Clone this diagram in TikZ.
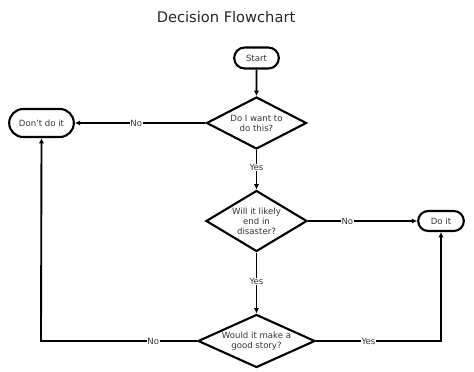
\documentclass[tikz,border=0pt]{standalone}
\usepackage{fontspec}
\setmainfont{DejaVu Sans}
\usetikzlibrary{arrows.meta,shapes.geometric,shapes.misc}

\begin{document}
\begin{tikzpicture}[x=0.03cm, y=-0.03cm,
  term/.style={draw, line width=1.8pt, rounded rectangle, font=\fontsize{7.3}{8.5}\selectfont,
               inner sep=1pt, text=black!80},
  dec/.style={draw, line width=1.8pt, diamond, aspect=1.5, inner sep=-8pt, align=center,
              font=\fontsize{7.3}{8.6}\selectfont, text=black!80},
  lbl/.style={fill=white, inner sep=0.4pt, font=\fontsize{7.3}{8.5}\selectfont, text=black!80},
  arr/.style={-{Latex[length=4.5pt, width=4.5pt]}, line width=1.6pt}
]
\useasboundingbox (0,0) rectangle (474,372);
\node[font=\fontsize{12.5}{14}\selectfont, text=black!85] (title) at (226,17) {Decision Flowchart};
\node[term, minimum width=1.41cm, minimum height=0.63cm] (start) at (256.5,58) {Start};
\node[dec, minimum width=3.0cm, minimum height=1.56cm] (want) at (256.5,123) {Do I want to\\do this?};
\node[term, minimum width=2.01cm, minimum height=0.84cm] (dont) at (41.5,123) {Don't do it};
\node[dec, minimum width=3.03cm, minimum height=1.83cm] (disaster) at (256.5,221) {Will it likely\\end in\\disaster?};
\node[term, minimum width=1.44cm, minimum height=0.6cm] (doit) at (441,221) {Do it};
\node[dec, minimum width=3.51cm, minimum height=1.59cm] (story) at (256.5,341) {Would it make a\\good story?};
\draw[arr] (start) -- (want);
\draw[arr] (want) -- node[lbl, pos=0.53] {No} (dont);
\draw[arr] (want) -- node[lbl, pos=0.44] {Yes} (disaster);
\draw[arr] (disaster) -- node[lbl, pos=0.36] {No} (doit);
\draw[arr] (disaster) -- node[lbl, pos=0.48] {Yes} (story);
\draw[arr] (story.west) -- node[lbl, pos=0.28] {No} (41,341) -- (dont.south);
\draw[arr] (story.east) -- node[lbl, pos=0.42] {Yes} (441,341) -- (doit.south);
\end{tikzpicture}
\end{document}
